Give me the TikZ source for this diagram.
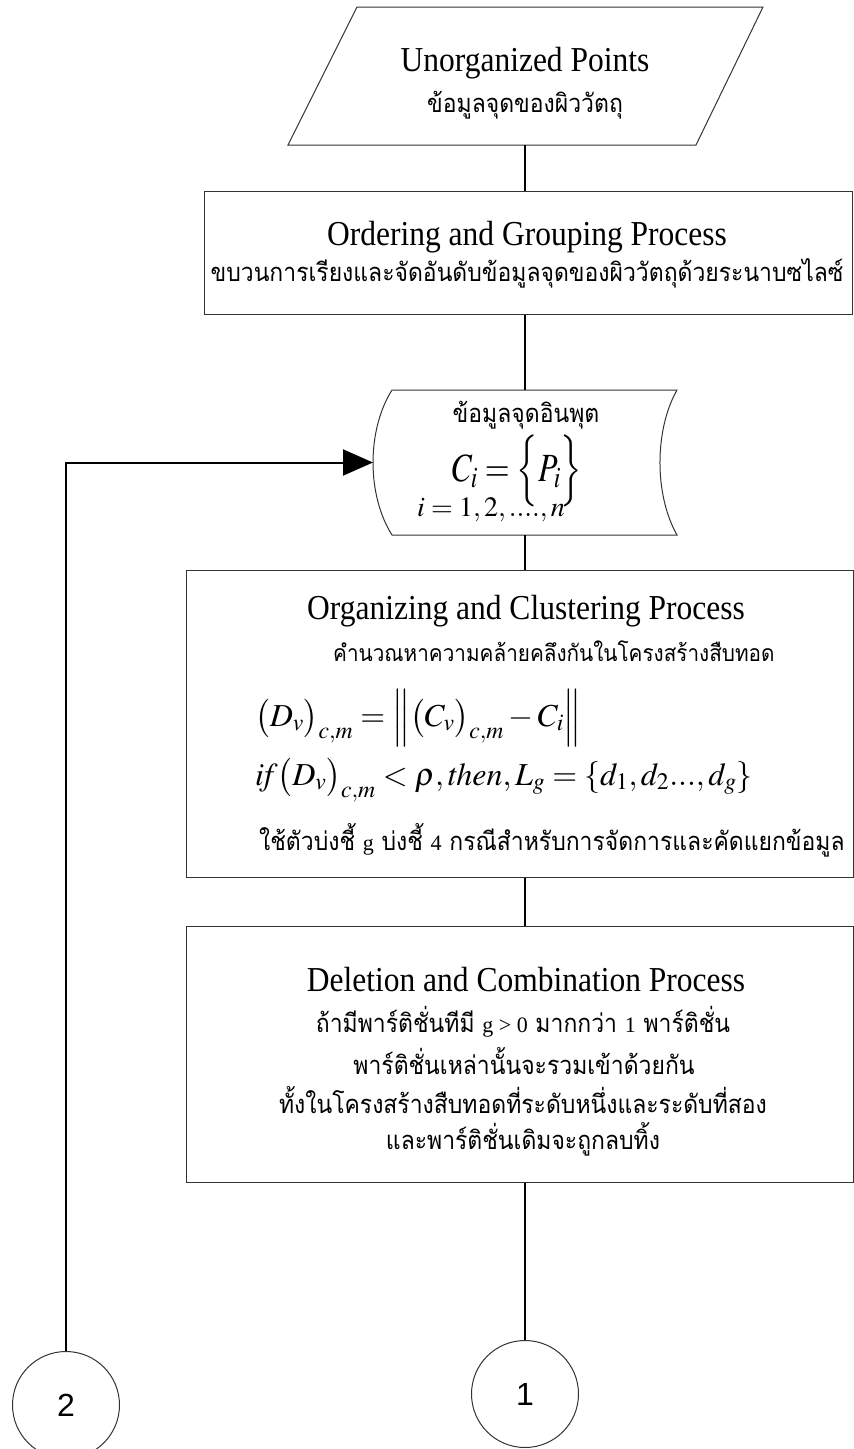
\documentclass[tikz,border=0pt]{standalone}
\usepackage{mathptmx}
\usepackage[no-math]{fontspec}
\setmainfont[FakeStretch=0.9]{Liberation Serif}
\newfontfamily\thai[Script=Thai,FakeStretch=0.9]{Loma}
\newfontfamily\latn{Liberation Serif}
\newfontfamily\digits{Liberation Sans}
\usetikzlibrary{arrows.meta}

\newcommand{\lt}[1]{{\latn\fontsize{22}{26}\selectfont #1}}

\tikzset{
  border/.style={draw=black!80, line width=1pt},
  link/.style={draw=black, line width=2pt},
  procbox/.style={border, rectangle, anchor=north west, inner sep=0pt},
  title/.style={font=\fontsize{35}{40}\selectfont, inner sep=0pt},
  thaitext/.style={font=\thai\fontsize{25.5}{30}\selectfont, inner sep=0pt},
  eqn/.style={font=\fontsize{32}{36}\selectfont, inner sep=0pt, anchor=west},
  connector/.style={circle, draw=black!80, line width=1pt, minimum size=107pt,
    inner sep=0pt, font=\digits\fontsize{32}{36}\selectfont},
}

\begin{document}
\begin{tikzpicture}[x=1pt, y=-1pt]
\useasboundingbox (0,0) rectangle (854,1449);

\coordinate (col) at (525,0);

% input: unorganized points (parallelogram)
\draw[border] (357,7) -- (763,7) -- (696,145) -- (288,145) -- cycle;
\coordinate (unorg-s) at (525,145);
\node[title] (unorg) at (525,63) {Unorganized Points};
\node[thaitext] (unorg-th) at (525,105) {ข้อมูลจุดของผิววัตถุ};

% ordering and grouping
\node[procbox, minimum width=648pt, minimum height=123pt] (order) at (204,191) {};
\node[title] (order-en) at (527,237) {Ordering and Grouping Process};
\node[thaitext] (order-th) at (527,273) {ขบวนการเรียงและจัดอันดับข้อมูลจุดของผิววัตถุด้วยระนาบซไลซ์};

% stored input data
\draw[border] (392,390) -- (677,390)
  .. controls (654.3,430) and (654.3,495) .. (677,535) -- (392,535)
  .. controls (366.7,495) and (366.7,430) .. (392,390) -- cycle;
\coordinate (data-n) at (525,390);
\coordinate (data-s) at (525,535);
\coordinate (data-w) at (373,462.5);
\node[thaitext] (data-th) at (526,415) {ข้อมูลจุดอินพุต};
\node[font=\fontsize{40}{44}\selectfont, inner sep=0pt] (data-eq) at (517,471)
  {\scalebox{0.8}[1]{$C_{i} = \Bigl\{ P_{i} \Bigr\}$}};
\node[font=\fontsize{28}{32}\selectfont, inner sep=0pt, anchor=base west] (data-idx) at (417,516)
  {$i = 1, 2, ...., n$};

% organizing and clustering
\node[procbox, minimum width=667pt, minimum height=307pt] (org) at (186,570) {};
\node[title] (org-en) at (526,611) {Organizing and Clustering Process};
\node[thaitext, font=\thai\fontsize{23}{28}\selectfont, anchor=west] (org-th1) at (333,651)
  {คำนวณหาความคล้ายคลึงกันในโครงสร้างสืบทอด};
\node[eqn] (org-eq1) at (255,718) {$\bigl(D_{v}\bigr)_{c,m} = \Bigl\|\bigl(C_{v}\bigr)_{c,m} - C_{i}\Bigr\|$};
\node[eqn] (org-eq2) at (255,780) {$\mathit{if}\bigl(D_{v}\bigr)_{c,m} < \rho, \mathit{then}, L_{g} = \{d_{1}, d_{2}..., d_{g}\}$};
\node[thaitext, anchor=west] (org-th2) at (259,840) {ใช้ตัวบ่งชี้ \lt{g} บ่งชี้ \lt{4} กรณีสำหรับการจัดการและคัดแยกข้อมูล};

% deletion and combination
\node[procbox, minimum width=667pt, minimum height=256pt] (del) at (186,926) {};
\node[title] (del-en) at (526,980) {Deletion and Combination Process};
\node[thaitext] (del-th1) at (523,1022) {ถ้ามีพาร์ติชั่นทีมี \lt{g > 0} มากกว่า \lt{1} พาร์ติชั่น};
\node[thaitext] (del-th2) at (524,1061) {พาร์ติชั่นเหล่านั้นจะรวมเข้าด้วยกัน};
\node[thaitext] (del-th3) at (523,1100) {ทั้งในโครงสร้างสืบทอดที่ระดับหนึ่งและระดับที่สอง};
\node[thaitext] (del-th4) at (523,1139) {และพาร์ติชั่นเดิมจะถูกลบทิ้ง};

% off-page connectors
\node[connector] (c1) at (525,1394) {1};
\node[connector] (c2) at (66,1405) {2};

% flow lines
\draw[link] (unorg-s) -- (order.north -| col);
\draw[link] (order.south -| col) -- (data-n);
\draw[link] (data-s) -- (org.north -| col);
\draw[link] (org.south -| col) -- (del.north -| col);
\draw[link] (del.south -| col) -- (c1.north);
\draw[link, -{Triangle[length=30pt,width=26pt]}] (c2.north) |- (data-w);
\end{tikzpicture}
\end{document}
